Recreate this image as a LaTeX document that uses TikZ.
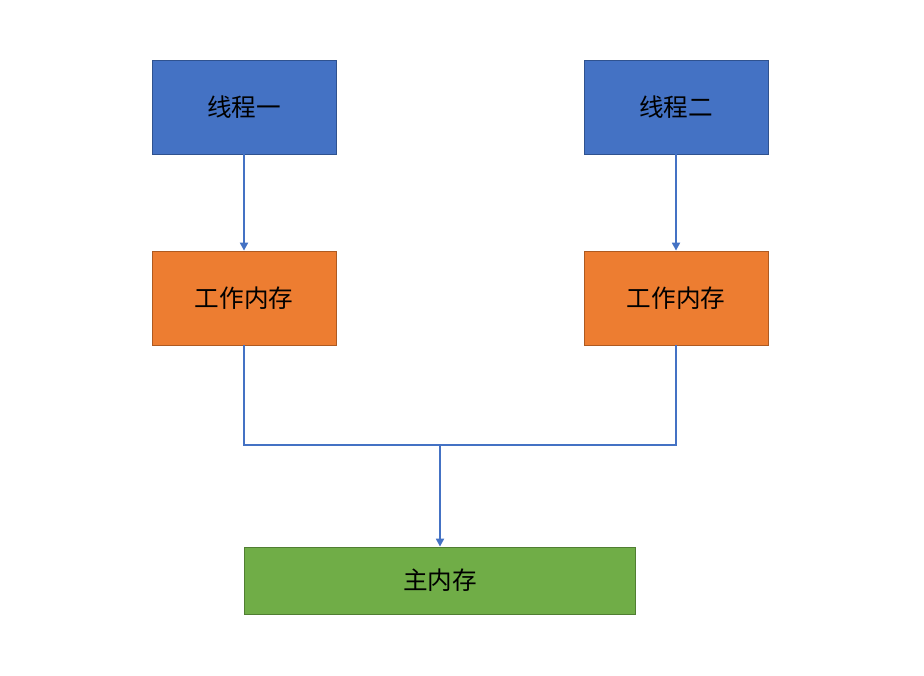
\documentclass[tikz,border=0pt]{standalone}
\usepackage{fontspec}
\newfontfamily\cjk{Noto Sans CJK SC}
\usepackage{xcolor}
\usetikzlibrary{arrows.meta,positioning}
\definecolor{thrblue}{HTML}{4472C4}
\definecolor{thrblueline}{HTML}{2F528F}
\definecolor{memorange}{HTML}{ED7D31}
\definecolor{memorangeline}{HTML}{AE5A21}
\definecolor{maingreen}{HTML}{70AD47}
\definecolor{maingreenline}{HTML}{507E32}
\tikzset{box style/.style={draw,line width=0.45pt,minimum width=3.68cm,minimum height=1.88cm,inner sep=0pt,font=\cjk\fontsize{14}{16}\selectfont},
	thread box/.style={box style,fill=thrblue,draw=thrblueline},
	work box/.style={box style,fill=memorange,draw=memorangeline},
	link/.style={draw=thrblue,line width=1.1pt},
	arr/.style={link,-{Triangle[width=4.5pt,length=4.5pt]}}}

\begin{document}
\begin{tikzpicture}
		\useasboundingbox (0,0) rectangle (18.48,13.5);
		
		\node[thread box] (t1) at (4.88,11.36) {线程一};
		\node[thread box] (t2) at (13.52,11.36) {线程二};
		
		\node[work box] (w1) at (4.88,7.54) {工作内存};
		\node[work box] (w2) at (13.52,7.54) {工作内存};
		
		\node[box style,fill=maingreen,draw=maingreenline,minimum width=7.82cm,minimum height=1.34cm] (mm) at (8.8,1.89) {主内存};
		
		\draw[arr] (t1) -- (w1);
		\draw[arr] (t2) -- (w2);
		
		\coordinate (j) at (8.8,4.6);
		\draw[link] (w1.south) |- (j) -| (w2.south);
		\draw[arr] (j) -- (mm.north);
		
	\end{tikzpicture}
\end{document}
